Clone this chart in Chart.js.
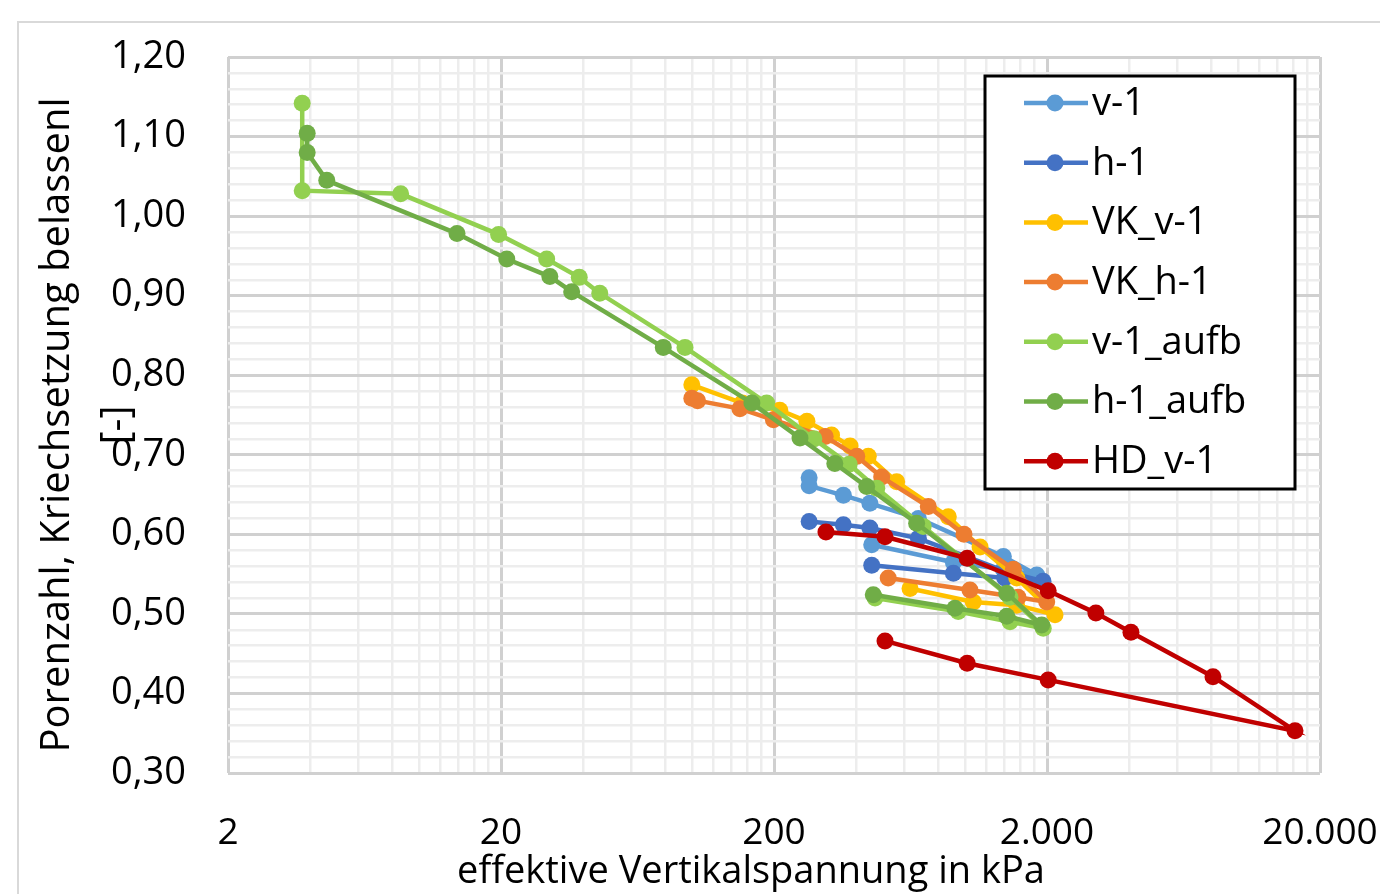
<!DOCTYPE html>
<html>
<head>
<meta charset="utf-8">
<script src="https://cdn.jsdelivr.net/npm/chart.js@4.4.1/dist/chart.umd.min.js"></script>
<style>
  html, body { margin: 0; padding: 0; background: #fff; }
  #wrap { width: 1380px; height: 894px; }
</style>
</head>
<body>
<div id="wrap"><canvas id="chart" width="1380" height="894"></canvas></div>
<script>
// series names and colours
var names = ['v-1', 'h-1', 'VK_v-1', 'VK_h-1', 'v-1_aufb', 'h-1_aufb', 'HD_v-1'];
var colors = ['#5B9BD5', '#4472C4', '#FFC000', '#ED7D31', '#92D050', '#70AD47', '#C00000'];

// stress in kPa (x) and void ratio (y)
var v1_p = [269, 269, 359, 449, 676, 1384, 1834, 1384, 908, 456];
var v1_e = [0.671, 0.661, 0.649, 0.639, 0.620, 0.572, 0.549, 0.556, 0.565, 0.587];

var h1_p = [269, 359, 449, 676, 1416, 1934, 1400, 908, 456];
var h1_e = [0.616, 0.612, 0.608, 0.595, 0.553, 0.541, 0.545, 0.551, 0.561];

var vkv1_p = [100, 153, 210, 264, 325, 380, 443, 563, 870, 1137, 1550, 2140, 1548, 1074, 630];
var vkv1_e = [0.788, 0.765, 0.756, 0.742, 0.725, 0.711, 0.698, 0.666, 0.622, 0.584, 0.545, 0.499, 0.511, 0.515, 0.532];

var vkh1_p = [100, 105, 150, 199, 308, 402, 496, 735, 993, 1506, 1995, 1566, 1044, 524];
var vkh1_e = [0.771, 0.768, 0.758, 0.744, 0.723, 0.698, 0.672, 0.635, 0.600, 0.556, 0.515, 0.521, 0.530, 0.545];

var v1a_p = [3.74, 3.74, 8.58, 19.6, 29.4, 38.7, 46.0, 94.4, 188, 280, 377, 476, 704, 1464, 1938, 1464, 946, 469];
var v1a_e = [1.142, 1.032, 1.028, 0.977, 0.946, 0.923, 0.903, 0.835, 0.765, 0.720, 0.688, 0.658, 0.610, 0.521, 0.482, 0.490, 0.503, 0.520];

var h1a_p = [3.90, 3.90, 4.60, 13.8, 21.0, 30.2, 36.3, 78.6, 166, 249, 334, 437, 666, 1424, 1912, 1424, 920, 462];
var h1a_e = [1.104, 1.080, 1.045, 0.978, 0.946, 0.924, 0.905, 0.835, 0.765, 0.721, 0.689, 0.660, 0.614, 0.526, 0.486, 0.497, 0.507, 0.524];

var hd_p = [310, 510, 1020, 2020, 3020, 4060, 8110, 16200, 2020, 1020, 510];
var hd_e = [0.603, 0.597, 0.570, 0.529, 0.501, 0.477, 0.421, 0.353, 0.417, 0.438, 0.466];

// axis ticks
var xMajor = [2, 20, 200, 2000, 20000];
var yMin = 0.30, yMax = 1.20;

var allP = [v1_p, h1_p, vkv1_p, vkh1_p, v1a_p, h1a_p, hd_p];
var allE = [v1_e, h1_e, vkv1_e, vkh1_e, v1a_e, h1a_e, hd_e];

var FONT = '"Open Sans", sans-serif';

function toPoints(p, e) {
  return p.map(function (x, i) { return { x: x, y: e[i] }; });
}

var datasets = names.map(function (n, i) {
  return {
    label: n,
    data: toPoints(allP[i], allE[i]),
    borderColor: colors[i],
    backgroundColor: colors[i],
    borderWidth: 4.5,
    pointRadius: 8.5,
    pointHoverRadius: 8.5,
    pointBorderWidth: 0,
    tension: 0,
    order: names.length - 1 - i // later series on top
  };
});

function isMajorX(v) {
  for (var i = 0; i < xMajor.length; i++) {
    if (Math.abs(v - xMajor[i]) < 1e-6 * xMajor[i]) return true;
  }
  return false;
}
function isMajorY(v) {
  return Math.round(v * 100) % 10 === 0;
}

// legend box, axis titles and outer frame
var decor = {
  id: 'decor',
  beforeDraw: function (chart) {
    var c = chart.ctx;
    c.save();
    c.fillStyle = '#fff';
    c.fillRect(0, 0, chart.width, chart.height);
    c.strokeStyle = '#d9d9d9';
    c.lineWidth = 2;
    c.strokeRect(18, 22, 1400, 900);
    c.restore();
  },
  afterDraw: function (chart) {
    var c = chart.ctx;
    c.save();
    c.fillStyle = '#000';
    c.textAlign = 'center';
    c.textBaseline = 'middle';
    // x title
    c.font = '38px ' + FONT;
    c.fillText('effektive Vertikalspannung in kPa', 751, 872);
    // y title, two lines
    c.save();
    c.translate(58, 425);
    c.rotate(-Math.PI / 2);
    c.font = '40px ' + FONT;
    c.fillText('Porenzahl, Kriechsetzung belassenl', 0, 0);
    c.fillText('[-]', 0, 60);
    c.restore();

    // legend
    c.fillStyle = '#fff';
    c.fillRect(985, 76, 310, 413);
    c.strokeStyle = '#000';
    c.lineWidth = 3;
    c.strokeRect(985, 76, 310, 413);
    c.font = '38px ' + FONT;
    c.textAlign = 'left';
    for (var i = 0; i < names.length; i++) {
      var y = 103 + i * 59.7;
      c.strokeStyle = colors[i];
      c.lineWidth = 4.5;
      c.beginPath();
      c.moveTo(1024, y);
      c.lineTo(1088, y);
      c.stroke();
      c.fillStyle = colors[i];
      c.beginPath();
      c.arc(1055, y, 8.5, 0, Math.PI * 2);
      c.fill();
      c.fillStyle = '#000';
      c.fillText(names[i], 1092, y + 1);
    }
    c.restore();
  }
};

var ctx = document.getElementById('chart').getContext('2d');
var myChart = new Chart(ctx, {
  type: 'line',
  data: { datasets: datasets },
  options: {
    responsive: false,
    animation: false,
    devicePixelRatio: 1,
    layout: { padding: { left: 0, top: 57, right: 60, bottom: 0 } },
    plugins: {
      legend: { display: false },
      tooltip: { enabled: false }
    },
    scales: {
      x: {
        type: 'logarithmic',
        min: 2,
        max: 20000,
        border: { display: false },
        afterBuildTicks: function (scale) {
          var t = [];
          for (var d = 0; d < 4; d++) {
            for (var k = 1; k < 10; k++) t.push({ value: 2 * k * Math.pow(10, d) });
          }
          t.push({ value: 20000 });
          scale.ticks = t;
        },
        afterFit: function (scale) {
          scale.height = 121;
          scale.paddingLeft = 0;
          scale.paddingRight = 0;
        },
        grid: {
          drawTicks: false,
          color: function (c) { return isMajorX(c.tick.value) ? '#d0d0d0' : '#ededed'; },
          lineWidth: function (c) { return isMajorX(c.tick.value) ? 3 : 2.5; }
        },
        ticks: {
          autoSkip: false,
          maxRotation: 0,
          padding: 38,
          color: '#000',
          font: { family: FONT, size: 37 },
          callback: function (v) {
            return isMajorX(v) ? Number(v).toLocaleString('de-DE') : '';
          }
        }
      },
      y: {
        type: 'linear',
        min: yMin,
        max: yMax,
        border: { display: false },
        afterFit: function (scale) {
          scale.width = 228;
          scale.paddingTop = 0;
          scale.paddingBottom = 0;
        },
        grid: {
          drawTicks: false,
          color: function (c) { return isMajorY(c.tick.value) ? '#d0d0d0' : '#ededed'; },
          lineWidth: function (c) { return isMajorY(c.tick.value) ? 3 : 2.5; }
        },
        ticks: {
          stepSize: 0.02,
          autoSkip: false,
          padding: 42,
          color: '#000',
          font: { family: FONT, size: 38 },
          callback: function (v) {
            return isMajorY(v) ? v.toFixed(2).replace('.', ',') : '';
          }
        }
      }
    }
  },
  plugins: [decor]
});
</script>
</body>
</html>
